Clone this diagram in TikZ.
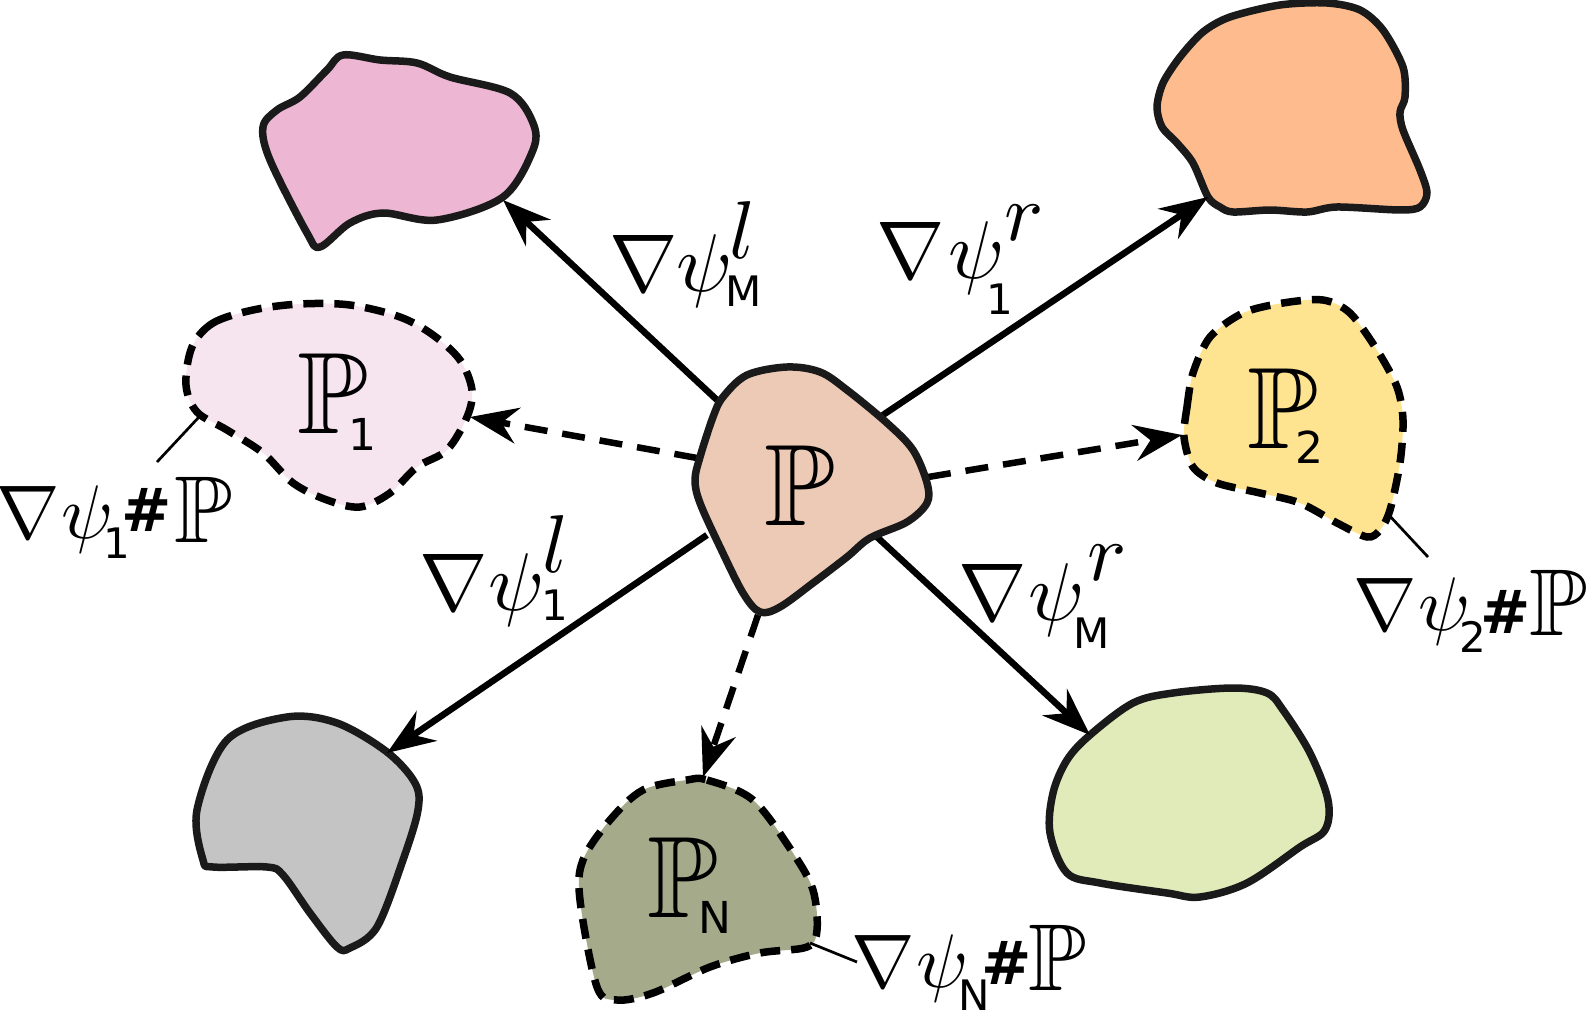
\documentclass[tikz,border=0pt]{standalone}
\usepackage{amssymb}
\usepackage{fontspec}
\DeclareFontShape{OML}{cmm}{m}{it}{<->cmmi10}{}
\DeclareFontShape{OMS}{cmsy}{m}{n}{<->cmsy10}{}
\newfontfamily\dvs{DejaVu Sans}
\usetikzlibrary{arrows.meta}
\definecolor{cpink}{HTML}{EDB7D3}
\definecolor{corange}{HTML}{FDBB8E}
\definecolor{ccentral}{HTML}{EDCAB6}
\definecolor{clpink}{HTML}{F6E4EF}
\definecolor{cyellow}{HTML}{FEE391}
\definecolor{cgray}{HTML}{C4C4C4}
\definecolor{colive}{HTML}{A4AA8A}
\definecolor{clgreen}{HTML}{E1EBB9}
\definecolor{outl}{HTML}{1A1A1A}
\newcommand\gat[3]{\rlap{\kern#1pt\raisebox{#2pt}{#3}}}
\newcommand\subf{\fontsize{42}{42}\dvs}
\newcommand\blobsubf{\fontsize{44}{44}\dvs}
\newcommand\hashf{\fontsize{60}{60}\dvs\bfseries}
\newcommand\lblP{{\fontsize{95}{95}\selectfont$\mathbb{P}$}}
\tikzset{
  blob/.style={draw=outl, line width=7.5pt, line join=round},
  dblob/.style={draw=black, line width=7.5pt, dash pattern=on 20pt off 11pt},
  map/.style={line width=6.5pt, -{Stealth[length=48pt,width=36pt,inset=16pt]}},
  push/.style={map, dash pattern=on 23pt off 15pt},
  leader/.style={line width=2.7pt},
  glab/.style={anchor=base west, inner sep=0pt, font=\fontsize{82}{82}\selectfont},
  hlab/.style={anchor=base west, inner sep=0pt, font=\fontsize{76}{76}\selectfont},
  blab/.style={anchor=base west, inner sep=0pt, font=\fontsize{116}{116}\selectfont},
}
\begin{document}
\begin{tikzpicture}[x=1pt,y=-1pt]
\useasboundingbox (0,0) rectangle (1588,1011);
% target blobs
\draw[blob, fill=cpink] plot[smooth cycle, tension=0.55] coordinates {
 (343,55) (380,60) (417,63) (450,77) (510,93) (533,123) (533,150) (503,197) (437,220) (383,213) (350,223) (320,247) (307,233) (270,160) (263,127) (277,110) (300,97) (327,70)};
\draw[blob, fill=corange] plot[smooth cycle, tension=0.5] coordinates {
 (1203,32) (1230,17) (1280,5) (1327,3) (1360,10) (1383,30) (1403,67) (1405,97) (1400,112) (1403,130) (1420,170) (1427,193) (1420,207) (1400,210) (1337,207) (1307,212) (1270,210) (1233,212) (1220,207) (1208,197) (1193,163) (1177,143) (1162,127) (1157,107) (1163,83) (1180,57)};
\draw[dblob, fill=clpink] plot[smooth cycle, tension=0.55] coordinates {
 (192,347) (213,323) (253,310) (300,304) (350,305) (400,317) (433,335) (460,360) (472,390) (467,417) (447,450) (417,467) (390,493) (360,507) (327,500) (293,483) (263,453) (227,430) (197,412) (186,385)};
\draw[dblob, fill=cyellow] plot[smooth cycle, tension=0.5] coordinates {
 (1184,437) (1187,407) (1193,373) (1210,337) (1243,313) (1283,303) (1323,300) (1350,313) (1377,350) (1397,387) (1403,420) (1400,463) (1390,510) (1380,530) (1367,537) (1337,523) (1300,503) (1260,493) (1217,483) (1193,467)};
\draw[blob, fill=cgray] plot[smooth cycle, tension=0.55] coordinates {
 (287,717) (337,723) (387,752) (415,783) (418,810) (403,860) (377,927) (350,948) (337,947) (310,913) (283,875) (267,867) (213,867) (203,860) (197,810) (227,740)};
\draw[dblob, fill=colive] plot[smooth cycle, tension=0.55] coordinates {
 (687,780) (707,780) (753,800) (793,853) (813,890) (817,930) (807,947) (760,953) (710,967) (653,993) (617,1000) (597,987) (580,900) (583,860) (610,820) (643,790)};
\draw[blob, fill=clgreen] plot[smooth cycle, tension=0.55] coordinates {
 (1090,735) (1133,703) (1173,693) (1233,688) (1267,693) (1283,710) (1310,753) (1328,800) (1325,830) (1300,847) (1247,883) (1200,897) (1167,893) (1100,883) (1067,873) (1050,833) (1053,793) (1067,760)};
% connector end points
\coordinate (sPink) at (717,400);   \coordinate (tPink) at (503,200);
\coordinate (sOrange) at (880,417); \coordinate (tOrange) at (1208,197);
\coordinate (sGray) at (707,535);   \coordinate (tGray) at (387,753);
\coordinate (sGreen) at (877,537);  \coordinate (tGreen) at (1090,735);
\coordinate (sP1) at (697,458);     \coordinate (tP1) at (470,417);
\coordinate (sP2) at (928,477);     \coordinate (tP2) at (1182,435);
\coordinate (sPN) at (758,615);     \coordinate (tPN) at (703,777);
\draw[map] (sPink) -- (tPink);
\draw[map] (sOrange) -- (tOrange);
\draw[map] (sGray) -- (tGray);
\draw[map] (sGreen) -- (tGreen);
\draw[push] (sP1) -- (tP1);
\draw[push] (sP2) -- (tP2);
\draw[push] (sPN) -- (tPN);
% central blob
\draw[blob, fill=ccentral] plot[smooth cycle, tension=0.55] coordinates {
 (787,367) (747,375) (723,397) (713,417) (700,457) (695,480) (700,503) (720,547) (743,593) (760,612) (780,607) (813,583) (847,557) (870,538) (907,522) (927,503) (927,483) (913,450) (887,423) (847,390) (820,372)};
% leaders
\coordinate (a1) at (157,462); \coordinate (b1) at (199,417);
\coordinate (a2) at (1428,557); \coordinate (b2) at (1387,513);
\coordinate (aN) at (857,962); \coordinate (bN) at (810,943);
\draw[leader] (a1) -- (b1);
\draw[leader] (a2) -- (b2);
\draw[leader] (aN) -- (bN);
% blob labels
\node[blab] (Pc) at (764.5,525) {$\mathbb{P}$};
\node[blab] (P1) at (296.5,433) {\gat{0}{0}{$\mathbb{P}$}\gat{51}{-17}{\blobsubf 1}};
\node[blab] (P2) at (1246.5,448) {\gat{0}{0}{$\mathbb{P}$}\gat{48}{-15}{\blobsubf 2}};
\node[blab] (PN) at (646.5,917) {\gat{0}{0}{$\mathbb{P}$}\gat{51.5}{-16}{\blobsubf N}};
% map labels
\node[glab] (LlM) at (608.5,291) {\gat{0}{0}{$\nabla$}\gat{67.5}{0}{$\psi$}\gat{120}{33}{$l$}\gat{116.5}{-15}{\subf M}};
\node[glab] (Lr1) at (875.5,278) {\gat{0}{0}{$\nabla$}\gat{72}{0}{$\psi$}\gat{128.5}{38}{$r$}\gat{110}{-36}{\subf 1}};
\node[glab] (Ll1) at (418.5,610) {\gat{0}{0}{$\nabla$}\gat{69}{0}{$\psi$}\gat{123}{38}{$l$}\gat{122}{-10}{\subf 1}};
\node[glab] (LrM) at (957.5,620) {\gat{0}{0}{$\nabla$}\gat{70}{0}{$\psi$}\gat{129.5}{40}{$r$}\gat{115.5}{-28}{\subf M}};
% push-forward labels
\node[hlab] (H1) at (-4,538) {\gat{0}{0}{$\nabla$}\gat{65}{0}{$\psi$}\gat{106.5}{-20}{\subf 1}\gat{125}{7}{\hashf\#}\gat{178}{-4}{\lblP}};
\node[hlab] (H2) at (1353,630) {\gat{0}{0}{$\nabla$}\gat{65}{0}{$\psi$}\gat{105.5}{-22}{\subf 2}\gat{127}{-3}{\hashf\#}\gat{176}{-5}{\lblP}};
\node[hlab] (HN) at (851,987) {\gat{0}{0}{$\nabla$}\gat{65}{0}{$\psi$}\gat{107}{-23}{\subf N}\gat{130}{3}{\hashf\#}\gat{177}{-3}{\lblP}};
\end{tikzpicture}
\end{document}
